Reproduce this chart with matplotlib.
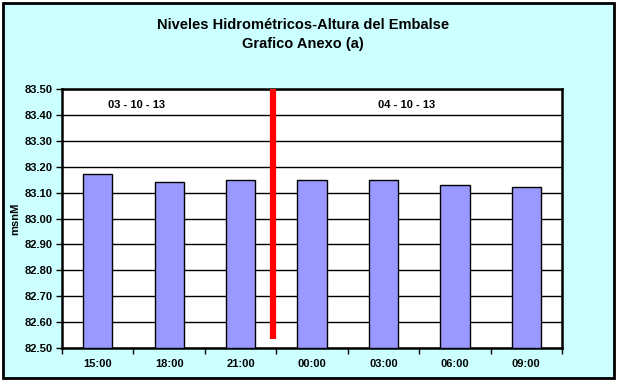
import numpy as np
import matplotlib
matplotlib.use('Agg')
import matplotlib.pyplot as plt
from matplotlib.patches import Rectangle

plt.rcParams['font.family'] = ['Liberation Sans', 'DejaVu Sans']

# 数据
horas = ['15:00', '18:00', '21:00', '00:00', '03:00', '06:00', '09:00']
niveles = [83.17, 83.14, 83.15, 83.15, 83.15, 83.13, 83.12]
fechas = ['03 - 10 - 13', '04 - 10 - 13']
fecha_x = [0.55, 4.33]
corte_x = 2.45          # separación de días
corte_y = [82.535, 83.50]
y_ticks = np.arange(82.50, 83.501, 0.10)

fig = plt.figure(figsize=(6.2, 3.85), dpi=100)
fig.patch.set_facecolor('white')
fig.patches.append(Rectangle((3 / 620, 1 - 378 / 385), 611 / 620, 375 / 385,
                             transform=fig.transFigure, facecolor='#CCFFFF',
                             edgecolor='black', linewidth=2, zorder=-10))

ax = fig.add_axes([62 / 620, 1 - 348 / 385, 500 / 620, 259 / 385])
ax.set_facecolor('white')

x = np.arange(len(horas))
ax.bar(x, np.array(niveles) - 82.5, bottom=82.5, width=0.41,
       color='#9999FF', edgecolor='black', linewidth=1, zorder=3)

ax.set_xlim(-0.5, len(horas) - 0.5)
ax.set_ylim(82.50, 83.50)
ax.set_yticks(y_ticks)
ax.set_yticklabels([f'{v:.2f}' for v in y_ticks], fontsize=8, fontweight='bold')
ax.yaxis.grid(True, color='black', linewidth=1, zorder=1)
ax.set_axisbelow(True)

# ticks en los límites de categoría
ax.set_xticks(np.arange(-0.5, len(horas), 1.0))
ax.set_xticklabels([])
ax.set_xticks(x, minor=True)
ax.set_xticklabels(horas, minor=True, fontsize=8, fontweight='bold')
ax.tick_params(axis='x', which='minor', length=0, pad=8)
ax.tick_params(axis='x', which='major', length=4, width=1, direction='out')
ax.tick_params(axis='y', length=4, width=1, direction='out', pad=3)

for s in ax.spines.values():
    s.set_linewidth(1.8)
    s.set_color('black')

ax.set_ylabel('msnM', fontsize=8, fontweight='bold', labelpad=3)

ax.plot([corte_x, corte_x], corte_y, color='red', linewidth=4.5,
        solid_capstyle='butt', zorder=4)

for fx, ft in zip(fecha_x, fechas):
    ax.text(fx, 83.44, ft, ha='center', va='center', fontsize=8,
            fontweight='bold', zorder=5)

fig.text(303 / 620, 1 - 25 / 385, 'Niveles Hidrométricos-Altura del Embalse',
         ha='center', va='center', fontsize=10.5, fontweight='bold')
fig.text(303 / 620, 1 - 44 / 385, 'Grafico Anexo (a)',
         ha='center', va='center', fontsize=10.5, fontweight='bold')

fig.savefig('out.png', dpi=100)
